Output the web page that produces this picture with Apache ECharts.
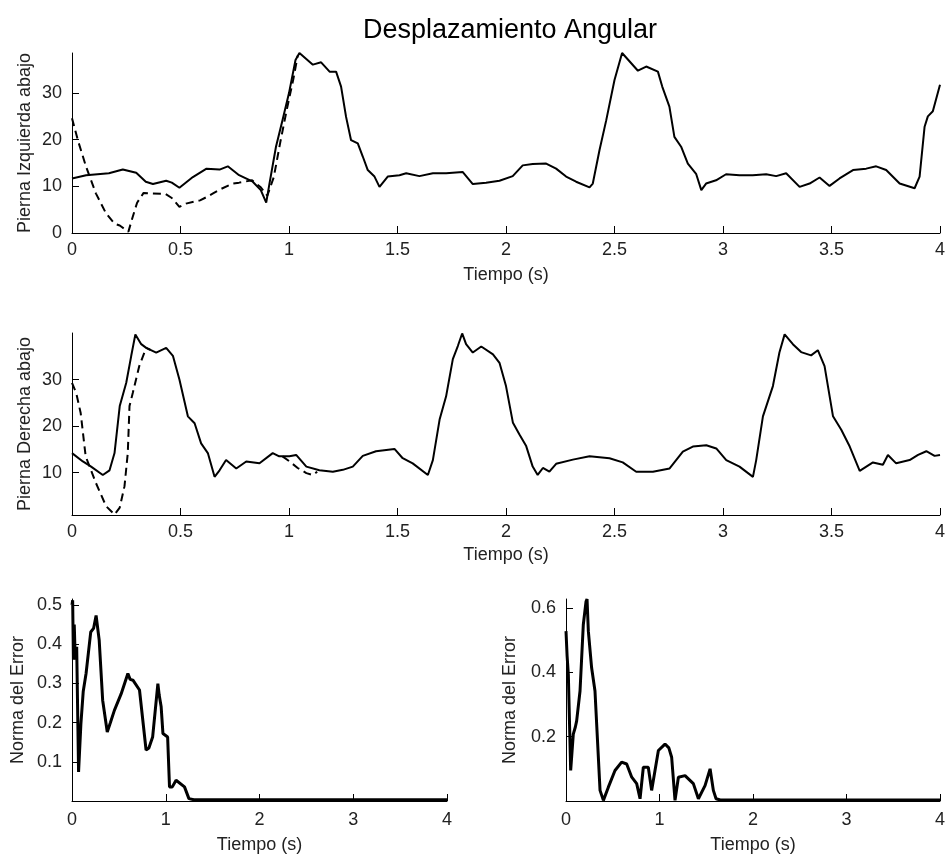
<!doctype html>
<html>
<head>
<meta charset="UTF-8">
<title>Desplazamiento Angular</title>
<script src="https://cdn.jsdelivr.net/npm/echarts@6/dist/echarts.min.js"></script>
<style>
  html, body { margin: 0; padding: 0; background: #fff; }
  #main { width: 946px; height: 854px; }
</style>
</head>
<body>
<div id="main"></div>
<script>
// Pierna izquierda: real (continua) y referencia (discontinua), [tiempo, grados]
var izqReal = [[0,11.7],[0.065,12.4],[0.17,12.8],[0.234,13.6],[0.296,12.9],[0.34,11],[0.373,10.5],[0.434,11.2],[0.46,10.8],[0.495,9.7],
  [0.557,12],[0.62,13.8],[0.68,13.6],[0.718,14.3],[0.77,12.4],[0.833,11],[0.87,9.2],[0.895,6.5],[0.91,10.6],[0.94,18.5],
  [0.97,24.2],[1.0,30],[1.03,37.1],[1.048,38.6],[1.11,36.1],[1.148,36.6],[1.187,34.6],[1.217,34.6],[1.24,31.4],[1.263,24.9],
  [1.286,19.9],[1.317,19.2],[1.34,16.4],[1.363,13.5],[1.394,12.1],[1.417,9.9],[1.455,12.1],[1.509,12.4],[1.54,12.8],[1.601,12.2],
  [1.663,12.8],[1.724,12.8],[1.8,13.1],[1.847,10.5],[1.908,10.8],[1.97,11.2],[2.031,12.2],[2.077,14.5],[2.123,14.8],[2.185,14.9],
  [2.231,13.8],[2.277,12.1],[2.323,11],[2.385,9.8],[2.4,10.6],[2.431,17.8],[2.462,24.2],[2.5,32.8],[2.535,38.6],[2.608,34.8],
  [2.646,35.7],[2.7,34.6],[2.72,31.4],[2.753,27.1],[2.776,20.6],[2.807,18.5],[2.838,14.9],[2.876,12.7],[2.9,9.2],[2.922,10.6],
  [2.968,11.3],[3.014,12.6],[3.076,12.4],[3.137,12.4],[3.199,12.6],[3.245,12.2],[3.291,12.8],[3.353,9.9],[3.399,10.6],[3.445,11.9],
  [3.491,10.1],[3.537,11.7],[3.599,13.5],[3.66,13.8],[3.706,14.3],[3.752,13.5],[3.814,10.6],[3.883,9.6],[3.906,12.1],[3.929,22.8],
  [3.944,25],[3.967,26.1],[4.0,31.8]];
var izqRef = [[0,24.6],[0.027,19.9],[0.065,14.2],[0.11,8.5],[0.157,4.2],[0.196,2],[0.22,1.6],[0.26,0.3],[0.28,3.5],[0.3,6.5],
  [0.33,8.6],[0.37,8.5],[0.43,8.4],[0.46,7.5],[0.495,5.6],[0.525,6.3],[0.59,7],[0.62,7.7],[0.65,8.5],[0.68,9.3],
  [0.74,10.6],[0.77,10.8],[0.83,11.3],[0.87,9.8],[0.9,8],[0.93,12],[0.96,19.5],[0.99,26.5],[1.02,33],[1.04,38]];

// Pierna derecha
var derReal = [[0,14.2],[0.05,12.4],[0.088,11.3],[0.142,9.5],[0.173,10.5],[0.196,14.2],[0.22,24.3],[0.25,29.3],[0.273,35.1],[0.292,39.7],
  [0.319,37.6],[0.342,36.8],[0.388,35.8],[0.434,36.8],[0.465,35.1],[0.495,30],[0.534,22.1],[0.565,20.6],[0.595,16.3],[0.626,14.2],
  [0.657,9.1],[0.68,10.5],[0.71,12.7],[0.757,10.9],[0.803,12.4],[0.864,12],[0.925,14.2],[0.955,13.5],[1.002,13.5],[1.033,13.8],
  [1.08,11.3],[1.14,10.5],[1.202,10.2],[1.248,10.6],[1.294,11.3],[1.34,13.6],[1.401,14.6],[1.486,15.1],[1.524,13.1],[1.57,12],
  [1.64,9.5],[1.663,12.7],[1.694,21.4],[1.724,26.4],[1.755,34.4],[1.778,37.2],[1.798,39.9],[1.816,37.6],[1.847,35.8],[1.886,37.1],
  [1.94,35.4],[1.97,33.6],[2.0,28.6],[2.032,20.7],[2.062,18.2],[2.093,15.7],[2.123,11.3],[2.146,9.5],[2.17,11],[2.2,10.2],
  [2.231,11.9],[2.308,12.8],[2.385,13.5],[2.477,13.1],[2.538,12.2],[2.6,10.2],[2.677,10.2],[2.754,10.9],[2.815,14.5],[2.861,15.6],
  [2.923,15.9],[2.969,15.2],[3.015,12.7],[3.076,11.3],[3.138,9.1],[3.153,12.7],[3.184,22.1],[3.23,28.6],[3.26,35.8],[3.284,39.7],
  [3.322,37.6],[3.36,35.9],[3.406,35.2],[3.437,36.3],[3.468,32.9],[3.507,22.1],[3.545,19.2],[3.584,15.6],[3.63,10.4],[3.691,12.2],
  [3.737,11.7],[3.76,13.8],[3.798,12],[3.86,12.7],[3.899,13.8],[3.937,14.6],[3.975,13.6],[4.0,13.8]];
var derRef = [[0,29.3],[0.02,27],[0.04,22.8],[0.063,13.5],[0.11,7.8],[0.157,2.8],[0.196,1],[0.22,2.5],[0.242,7.1],[0.257,14.2],
  [0.265,24.3],[0.28,27.1],[0.31,32.9],[0.342,36.8],[0.36,36.4],[null,null],
  [0.97,13.5],[1.0,12.5],[1.04,11],[1.08,9.9],[1.11,9.5],[1.13,10.2]];

// Norma del error
var errIzq = [[0,0.5],[0.007,0.512],[0.015,0.36],[0.024,0.45],[0.035,0.36],[0.05,0.393],[0.07,0.074],[0.095,0.197],[0.12,0.28],[0.15,0.325],
  [0.2,0.431],[0.23,0.44],[0.257,0.473],[0.29,0.41],[0.327,0.257],[0.376,0.176],[0.41,0.2],[0.452,0.231],[0.524,0.273],[0.596,0.325],
  [0.62,0.31],[0.65,0.308],[0.72,0.283],[0.79,0.13],[0.82,0.135],[0.86,0.163],[0.916,0.299],[0.93,0.27],[0.951,0.24],[0.97,0.172],
  [1.02,0.163],[1.04,0.036],[1.07,0.036],[1.11,0.053],[1.2,0.036],[1.247,0.006],[1.3,0.003],[4,0.003]];
var errDer = [[0,0.528],[0.012,0.45],[0.025,0.393],[0.05,0.095],[0.078,0.208],[0.1,0.23],[0.114,0.249],[0.15,0.342],[0.185,0.548],[0.214,0.62],
  [0.225,0.628],[0.239,0.528],[0.274,0.414],[0.31,0.342],[0.364,0.033],[0.4,0.002],[0.453,0.043],[0.524,0.095],[0.595,0.121],[0.649,0.115],
  [0.703,0.074],[0.756,0.054],[0.792,0.007],[0.827,0.105],[0.88,0.105],[0.916,0.033],[0.952,0.095],[0.988,0.157],[1.059,0.177],[1.1,0.165],
  [1.13,0.136],[1.166,0.002],[1.202,0.074],[1.273,0.079],[1.362,0.054],[1.416,0.007],[1.487,0.048],[1.541,0.1],[1.576,0.033],[1.605,0.007],
  [1.65,0.003],[4,0.003]];

// marcas de los ejes
var ticksIzq = [0, 10, 20, 30];
var ticksDer = [10, 20, 30];
var ticksErrIzq = [0.1, 0.2, 0.3, 0.4, 0.5];
var ticksErrDer = [0.2, 0.4, 0.6];

var fuente = "'Liberation Sans', Arial, Helvetica, sans-serif";
var txt = { fontFamily: fuente, fontSize: 18, color: '#222' };

function ejeX(grid, paso, margen, gap) {
    return {
        type: 'value', gridIndex: grid, min: 0, max: 4, interval: paso,
        name: 'Tiempo (s)', nameLocation: 'middle', nameGap: gap, nameMoveOverlap: false,
        nameTextStyle: txt,
        axisLine: { lineStyle: { color: '#000', width: 1 } },
        axisTick: { inside: true, length: 7, lineStyle: { color: '#000' } },
        axisLabel: Object.assign({ margin: margen, showMinLabel: true, showMaxLabel: true }, txt),
        splitLine: { show: false }
    };
}

function ejeY(grid, nombre, min, max, marcas, gap) {
    return {
        type: 'value', gridIndex: grid, min: min, max: max,
        name: nombre, nameLocation: 'middle', nameRotate: 90, nameGap: gap, nameMoveOverlap: false,
        nameTextStyle: txt,
        axisLine: { show: true, lineStyle: { color: '#000', width: 1 } },
        axisTick: { show: true, inside: true, length: 7, customValues: marcas, lineStyle: { color: '#000' } },
        axisLabel: Object.assign({ margin: 10, customValues: marcas }, txt),
        splitLine: { show: false }
    };
}

function linea(datos, x, y, ancho, tipo) {
    return {
        type: 'line', data: datos, xAxisIndex: x, yAxisIndex: y,
        symbol: 'none', connectNulls: false,
        lineStyle: { color: '#000', width: ancho, type: tipo || 'solid' },
        z: tipo ? 3 : 2
    };
}

var myChart = echarts.init(document.getElementById('main'));
var option = {
    animation: false,
    backgroundColor: '#fff',
    title: {
        text: 'Desplazamiento Angular', left: 505, top: 12, textAlign: 'center',
        textStyle: { fontFamily: fuente, fontSize: 27, fontWeight: 'normal', color: '#000' }
    },
    grid: [
        { left: 72, top: 53, width: 868, height: 180, outerBoundsMode: 'none' },
        { left: 72, top: 333, width: 868, height: 182, outerBoundsMode: 'none' },
        { left: 72, top: 599, width: 375, height: 202, outerBoundsMode: 'none' },
        { left: 566, top: 599, width: 374, height: 202, outerBoundsMode: 'none' }
    ],
    xAxis: [
        ejeX(0, 0.5, 8, 33),
        ejeX(1, 0.5, 8, 31),
        ejeX(2, 1, 10, 35),
        ejeX(3, 1, 10, 35)
    ],
    yAxis: [
        ejeY(0, 'Pierna Izquierda abajo', 0, 38.6, ticksIzq, 38),
        ejeY(1, 'Pierna Derecha abajo', 0.9, 40, ticksDer, 38),
        ejeY(2, 'Norma del Error', 0, 0.515, ticksErrIzq, 45),
        ejeY(3, 'Norma del Error', 0, 0.628, ticksErrDer, 47)
    ],
    series: [
        linea(izqReal, 0, 0, 2),
        linea(izqRef, 0, 0, 2, [8, 5]),
        linea(derReal, 1, 1, 2),
        linea(derRef, 1, 1, 2, [8, 5]),
        linea(errIzq, 2, 2, 3),
        linea(errDer, 3, 3, 3)
    ]
};
myChart.setOption(option);
</script>
</body>
</html>
